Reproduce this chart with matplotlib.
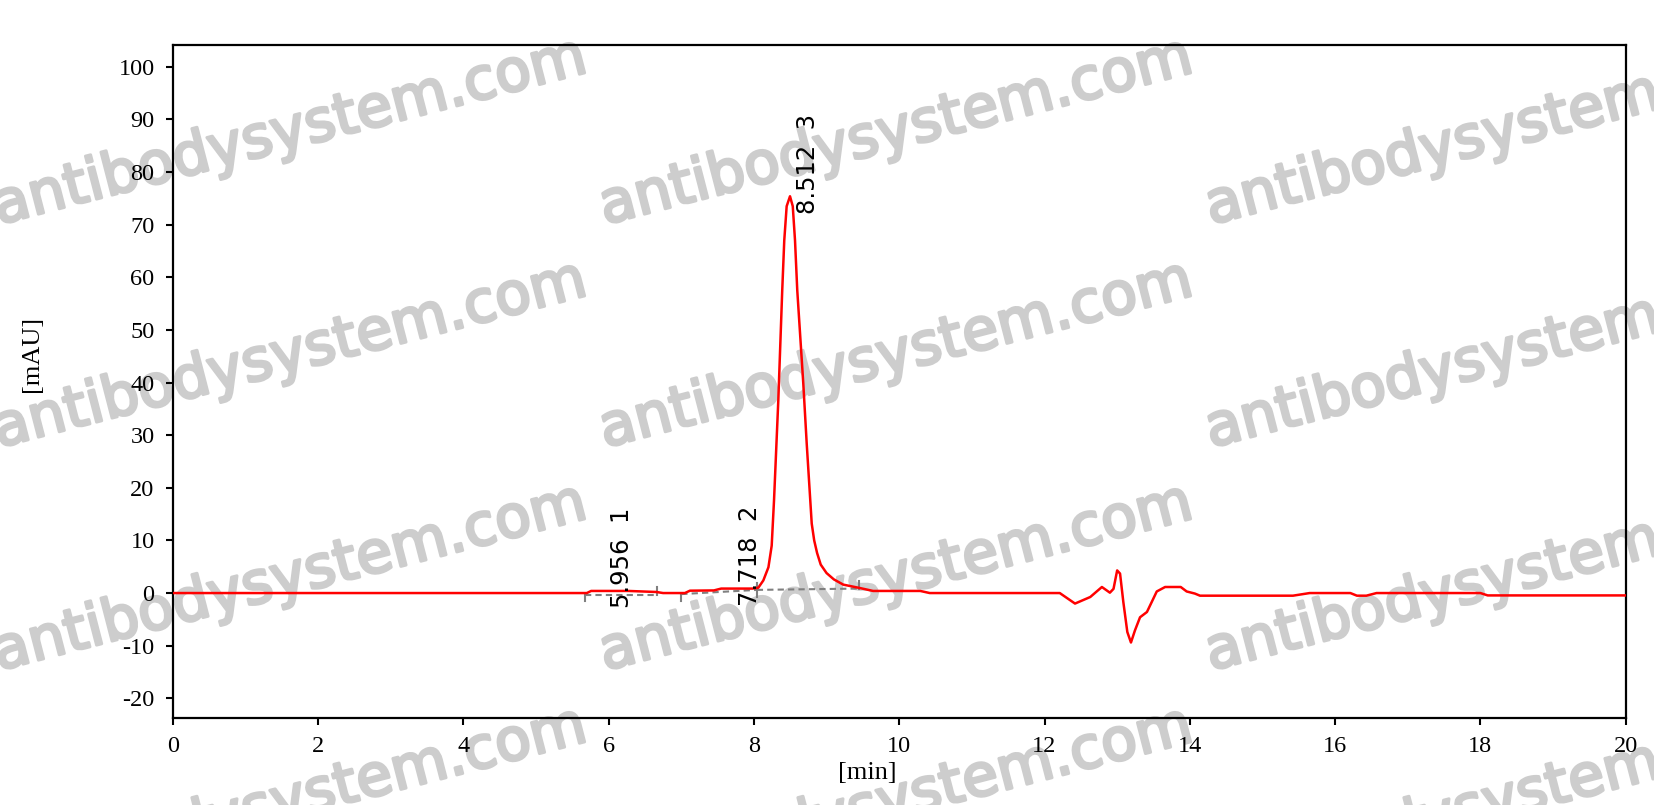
#chromatogram with peak labels and baselines
import matplotlib.pyplot as plt
import matplotlib.patheffects as pe

plt.rcParams['axes.unicode_minus']=False

#trace (min, mAU)
time=[0,5.70,5.76,6.27,6.66,6.75,7.05,7.12,7.45,7.55,7.90,7.98,8.06,8.13,8.20,8.245,8.277,
      8.336,8.39,8.418,8.451,8.497,8.535,8.566,8.597,8.68,8.727,8.796,8.83,8.87,8.92,9.0,9.1,
      9.23,9.46,9.64,10.29,10.42,12.21,12.42,12.63,12.79,12.90,12.95,13.00,13.04,13.085,
      13.14,13.19,13.245,13.315,13.41,13.476,13.545,13.66,13.875,13.957,14.07,14.14,15.42,
      15.65,16.21,16.30,16.43,16.57,18.0,18.1,20.0]
signal=[0,0,0.4,0.4,0.2,0,0,0.45,0.5,0.85,0.85,0.85,1.0,2.4,4.9,9.0,17.6,
        36.6,57.5,67,73.5,75.4,73.5,67,57.5,39.8,28.4,13.2,10.0,7.6,5.4,3.8,2.6,
        1.6,0.95,0.4,0.4,0,0,-2.0,-0.75,1.15,0.07,0.8,4.3,3.7,-1.7,
        -7.4,-9.4,-7.1,-4.6,-3.6,-1.7,0.3,1.15,1.15,0.3,-0.1,-0.5,-0.5,
        0,0,-0.5,-0.5,0,0,-0.45,-0.45]

#peaks
peak_rt=[5.956,7.718,8.512]
peak_h=[0.4,0.85,75.4]
peak_no=[1,2,3]

#integration baselines
bl_start=[5.68,7.00,8.04]
bl_end=[6.66,8.04,9.44]
bl_y0=[-0.3,-0.2,0.6]
bl_y1=[-0.3,0.6,0.85]

serif='Liberation Serif'
W,H=1654,805
wm='#cdcdcd'

fig=plt.figure(figsize=(W/100,H/100),dpi=100)
ax=fig.add_axes([0.1044,0.1077,0.8785,0.8368])
ax.patch.set_alpha(0)

#watermark behind everything
for cy in [132,355,578,801]:
  for cx in [290,896,1502]:
    fig.text(cx/W,1-cy/H,'antibodysystem.com',fontsize=42,color=wm,
             rotation=14.5,rotation_mode='anchor',ha='center',va='center',
             family='DejaVu Sans',zorder=-5,
             path_effects=[pe.withStroke(linewidth=2.2,foreground=wm)])

ax.plot(time,signal,color='#ff0000',lw=1.8,zorder=3)

#baselines with start/end marks
for i in range(len(bl_start)):
  ax.plot([bl_start[i],bl_end[i]],[bl_y0[i],bl_y1[i]],color='#808080',lw=1.5,ls=(0,(3,2)),zorder=2)
  ax.plot([bl_start[i],bl_start[i]],[bl_y0[i]-1.3,bl_y0[i]+(1.0 if i==2 else 0)],color='#808080',lw=1.5,zorder=2)
  ax.plot([bl_end[i],bl_end[i]],[bl_y1[i],bl_y1[i]+1.4],color='#808080',lw=1.5,zorder=2)

#peak labels
for rt,h,n in zip(peak_rt,peak_h,peak_no):
  ax.text(rt+0.235,h-3.3,f'{rt:.3f}  {n}',rotation=90,ha='center',va='bottom',
          fontsize=17.5,family='DejaVu Sans',zorder=4)

ax.set_xlim(0,20)
ax.set_ylim(-23.8,104.2)
ax.set_xticks(range(0,21,2))
ax.set_yticks(range(-20,101,10))
ax.tick_params(direction='out',length=5,width=1.5,pad=8,labelsize=17.5)
for lab in ax.get_xticklabels()+ax.get_yticklabels():
  lab.set_family(serif)
for s in ax.spines.values():
  s.set_linewidth(1.6)

fig.text(867/W,1-773/H,'[min]',ha='center',va='center',fontsize=19,family=serif)
fig.text(32/W,1-354/H,'[mAU]',ha='center',va='center',rotation=90,fontsize=19,family=serif)

plt.savefig('out.png',dpi=100)
